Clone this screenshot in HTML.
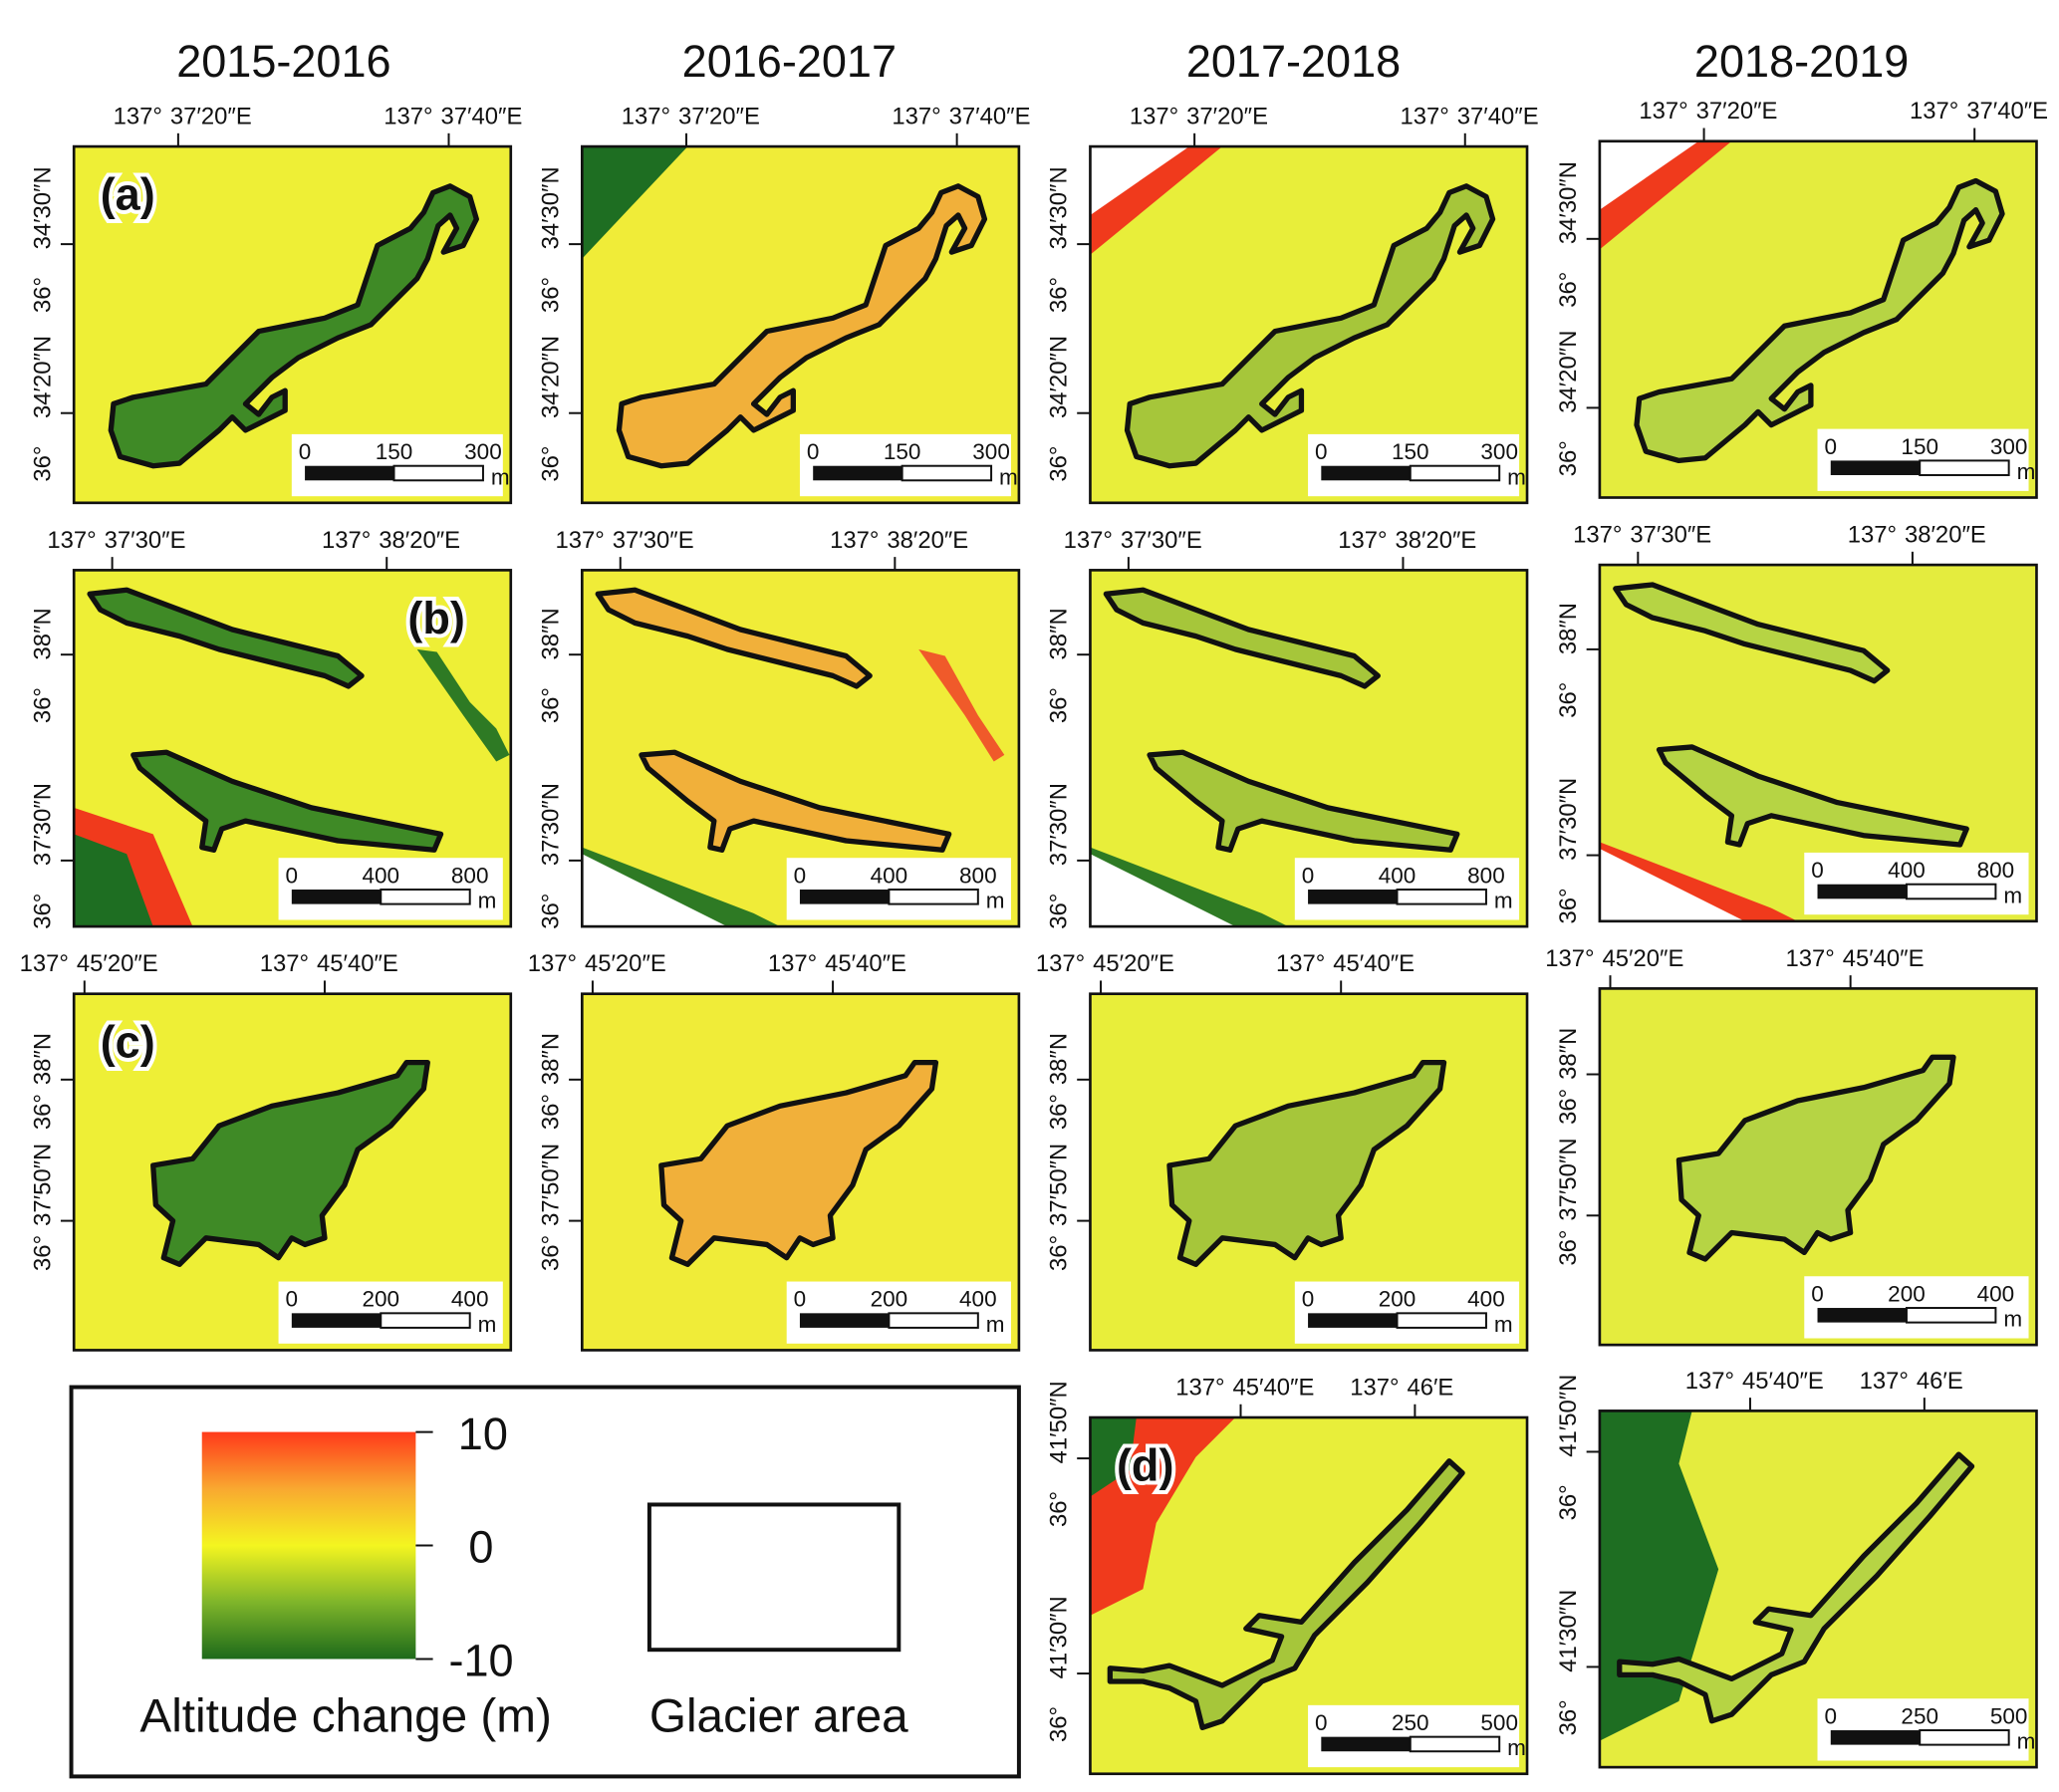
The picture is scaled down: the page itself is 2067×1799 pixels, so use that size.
<!DOCTYPE html>
<html><head><meta charset="utf-8"><style>
html,body{margin:0;padding:0;background:#fff;}
svg text{font-family:"Liberation Sans","DejaVu Sans",sans-serif;}
</style></head><body>
<svg id="fig" width="2067" height="1794" viewBox="0 0 1560 1354" preserveAspectRatio="none" xmlns="http://www.w3.org/2000/svg">
<defs>
<linearGradient id="cbar" x1="0" y1="0" x2="0" y2="1">
<stop offset="0" stop-color="#ff3a1a"/><stop offset="0.25" stop-color="#f9a830"/><stop offset="0.5" stop-color="#f4f520"/><stop offset="0.75" stop-color="#7fb52a"/><stop offset="1" stop-color="#1d6a1a"/>
</linearGradient>
</defs>
</svg>
<script>
const years=["2015-2016","2016-2017","2017-2018","2018-2019"];
const yearX=[215,598,980,1365];
const rowLetters=["(a)","(b)","(c)","(d)"];
const topLabels=[["37′20″E","37′40″E"],["37′30″E","38′20″E"],["45′20″E","45′40″E"],["45′40″E","46′E"]];
const leftLabels=[["34′30″N","34′20″N"],["38″N","37′30″N"],["38″N","37′50″N"],["41′50″N","41′30″N"]];
const scaleLabels=[["0","150","300"],["0","400","800"],["0","200","400"],["0","250","500"]];
const topTickRel=[[79,284],[29,237],[8,190],[114,246]];
const leftTickRel=[[74,202],[64,220],[65,172],[31,194]];
const fillColors=["#3f8a26","#f1b03a","#a6c63a","#b6d444"];
const bgColors=["#eeef36","#f0ec38","#e8ee3a","#e4ec3e"];
const shapes=[
[[30,195],[45,190],[100,180],[140,140],[190,130],[215,120],[230,75],[255,62],[265,50],[272,35],[285,30],[300,38],[305,55],[295,75],[280,80],[290,62],[285,52],[276,60],[268,85],[260,100],[240,120],[225,135],[200,145],[170,160],[150,175],[130,195],[140,203],[150,190],[160,185],[160,200],[130,215],[120,205],[110,215],[80,240],[60,242],[35,235],[28,215]],
[[12,18],[40,15],[80,30],[120,45],[160,55],[200,65],[218,80],[208,88],[190,80],[150,70],[110,60],[80,50],[40,40],[20,30]],
[[60,130],[90,125],[110,100],[150,85],[200,75],[245,62],[252,52],[268,52],[265,72],[240,100],[215,118],[205,145],[188,168],[190,185],[175,190],[165,185],[155,200],[140,190],[100,185],[80,205],[68,200],[75,172],[62,160]],
[[15,190],[40,192],[60,188],[100,203],[138,184],[145,166],[118,160],[128,150],[160,155],[200,110],[240,70],[272,33],[282,42],[250,80],[210,125],[170,165],[155,190],[130,200],[100,230],[85,235],[80,215],[60,205],[40,200],[15,200]]
];
const shapeB2=[[45,140],[70,138],[120,160],[180,180],[278,200],[273,212],[200,205],[130,190],[112,196],[106,212],[97,210],[100,190],[80,175],[50,150]];
const colX=[56,441,826,1212];
const rowY=[[111,111,111,107],[432,432,432,428],[753,753,753,749],[null,null,1074,1069]];
const PW=331,PH=270;
const NS="http://www.w3.org/2000/svg";
const svg=document.getElementById('fig');
function mk(tag,attrs,parent){const e=document.createElementNS(NS,tag);for(const k in attrs)e.setAttribute(k,attrs[k]);(parent||svg).appendChild(e);return e;}
function txt(x,y,s,size,anchor,parent,extra){const t=mk('text',Object.assign({x:x,y:y,'font-size':size,'text-anchor':anchor||'start',fill:'#111'},extra||{}),parent);t.textContent=s;return t;}
years.forEach((y,i)=>{const t=txt(yearX[i],58,y,34,'middle');

});
function pts(arr,ox,oy){return arr.map(p=>(ox+p[0])+','+(oy+p[1])).join(' ');}
for(let r=0;r<4;r++){for(let c=0;c<4;c++){
 const py=rowY[r][c]; if(py===null) continue;
 const px=colX[c];
 const g=mk('g',{});
 
 
 mk('rect',{x:px,y:py,width:PW,height:PH,fill:bgColors[c]},g);
 if(r===0&&c===1) mk('polygon',{points:pts([[0,0],[80,0],[0,85]],px,py),fill:'#1e6e22'},g);
 if(r===0&&c>=2){mk('polygon',{points:pts([[0,0],[100,0],[0,82]],px,py),fill:'#f03a1c'},g);
  mk('polygon',{points:pts([[0,0],[75,0],[0,52]],px,py),fill:'#fff'},g);}
 if(r===1&&c===0){mk('polygon',{points:pts([[0,180],[60,200],[90,270],[0,270]],px,py),fill:'#f03a1c'},g);mk('polygon',{points:pts([[0,200],[40,215],[60,270],[0,270]],px,py),fill:'#1e6e22'},g);}
 if(r===1&&c>=1){mk('polygon',{points:pts([[0,210],[130,260],[150,270],[0,270]],px,py),fill:c===3?'#f03a1c':'#2e7a24'},g);mk('polygon',{points:pts([[0,215],[110,270],[0,270]],px,py),fill:'#fff'},g);}
 if(r===1&&c===1) mk('polygon',{points:pts([[255,60],[275,65],[300,110],[320,140],[312,145],[290,110]],px,py),fill:'#f05a2a'},g);
 if(r===1&&c===0) mk('polygon',{points:pts([[260,60],[275,62],[300,100],[320,120],[330,140],[320,145],[295,110]],px,py),fill:'#2e7a24'},g);
 if(r===3&&c===2){mk('polygon',{points:pts([[0,0],[110,0],[80,30],[50,80],[40,130],[0,150]],px,py),fill:'#f03a1c'},g);mk('polygon',{points:pts([[0,0],[35,0],[30,40],[0,60]],px,py),fill:'#1e6e22'},g);}
 if(r===3&&c===3){mk('polygon',{points:pts([[0,0],[70,0],[60,40],[90,120],[60,220],[0,250]],px,py),fill:'#1e6e22'},g);}
 const fc=fillColors[c];
 mk('polygon',{points:pts(shapes[r],px,py),fill:fc,stroke:'#111','stroke-width':4,'stroke-linejoin':'round'},g);
 if(r===1) mk('polygon',{points:pts(shapeB2,px,py),fill:fc,stroke:'#111','stroke-width':4,'stroke-linejoin':'round'},g);
 mk('rect',{x:px,y:py,width:PW,height:PH,fill:'none',stroke:'#111','stroke-width':2},g);
 const sx=px+(r===1||r===2?155:165),sy=py+218;
 mk('rect',{x:sx,y:sy,width:PW-(sx-px)-6,height:47,fill:'#fff'},g);
 const bx=sx+10,bw=135;
 mk('rect',{x:bx,y:sy+24,width:bw/2,height:11,fill:'#111'},g);
 mk('rect',{x:bx+bw/2,y:sy+24,width:bw/2,height:11,fill:'#fff',stroke:'#111','stroke-width':1.5},g);
 scaleLabels[r].forEach((s,k)=>txt(bx+k*bw/2,sy+19,s,17,'middle',g));
 txt(bx+bw+6,sy+38,'m',17,'start',g);
 topTickRel[r].forEach((tx,k)=>{const x=px+tx;mk('line',{x1:x,y1:py-10,x2:x,y2:py,stroke:'#111','stroke-width':1.5},g);
  txt(x-12,py-17,'137°',18,'end',g);txt(x-6,py-17,topLabels[r][k],18,'start',g);});
 leftTickRel[r].forEach((ty,k)=>{const y=py+ty;mk('line',{x1:px-10,y1:y,x2:px,y2:y,stroke:'#111','stroke-width':1.5},g);
  const lx=px-18;
  txt(0,0,'36°',18,'start',g,{transform:'translate('+lx+','+(y+(r===2?38:52))+') rotate(-90)'});
  txt(0,0,leftLabels[r][k],18,'start',g,{transform:'translate('+lx+','+(y+4)+') rotate(-90)'});});
 if(c===0||(r===3&&c===2)){
  const lt=txt(px+20,py+48,rowLetters[r],34,'start',g,{'font-weight':'bold',stroke:'#fff','stroke-width':6,'paint-order':'stroke'});
  if(r===1){lt.setAttribute('x',px+253);}
 }
}}
const lg=mk('g',{});


mk('rect',{x:54,y:1051,width:718,height:295,fill:'#fff',stroke:'#111','stroke-width':3},lg);
const cb=mk('rect',{x:153,y:1085,width:162,height:172,fill:'url(#cbar)'},lg);


const cbTicks=["10","0","-10"];
cbTicks.forEach((s,k)=>{const y=1085+k*86;mk('line',{x1:315,y1:y,x2:328,y2:y,stroke:'#111','stroke-width':1.5},lg);txt(k===2?340:k===1?355:347,y+13,s,34,'start',lg);});
txt(262,1312,'Altitude change (m)',36,'middle',lg);
const ga=mk('rect',{x:492,y:1140,width:189,height:110,fill:'#fff',stroke:'#111','stroke-width':3},lg);


txt(590,1312,'Glacier area',36,'middle',lg);
</script>
</body></html>
